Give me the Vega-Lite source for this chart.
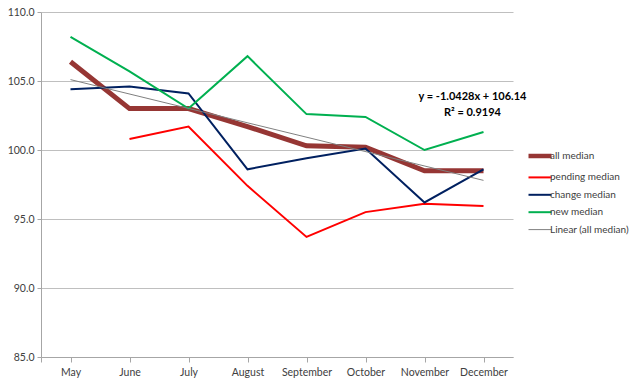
{
  "$schema": "https://vega.github.io/schema/vega-lite/v6.json",
  "autosize": {"type": "none"},
  "width": 472,
  "height": 345,
  "padding": {"left": 41, "top": 12, "right": 127, "bottom": 27},
  "background": "white",
  "config": {
    "font": "Lato",
    "view": {"stroke": null},
    "axis": {"labelFont": "Lato", "labelColor": "#404040", "labelFontSize": 10.5}
  },
  "datasets": {
    "lines": [
      {"month": "May", "series": "all median", "value": 106.4},
      {"month": "June", "series": "all median", "value": 103.0},
      {"month": "July", "series": "all median", "value": 103.0},
      {"month": "August", "series": "all median", "value": 101.7},
      {"month": "September", "series": "all median", "value": 100.3},
      {"month": "October", "series": "all median", "value": 100.2},
      {"month": "November", "series": "all median", "value": 98.5},
      {"month": "December", "series": "all median", "value": 98.5},
      {"month": "June", "series": "pending median", "value": 100.8},
      {"month": "July", "series": "pending median", "value": 101.7},
      {"month": "August", "series": "pending median", "value": 97.4},
      {"month": "September", "series": "pending median", "value": 93.7},
      {"month": "October", "series": "pending median", "value": 95.5},
      {"month": "November", "series": "pending median", "value": 96.1},
      {"month": "December", "series": "pending median", "value": 95.95},
      {"month": "May", "series": "change median", "value": 104.4},
      {"month": "June", "series": "change median", "value": 104.6},
      {"month": "July", "series": "change median", "value": 104.1},
      {"month": "August", "series": "change median", "value": 98.6},
      {"month": "September", "series": "change median", "value": 99.4},
      {"month": "October", "series": "change median", "value": 100.1},
      {"month": "November", "series": "change median", "value": 96.2},
      {"month": "December", "series": "change median", "value": 98.6},
      {"month": "May", "series": "new median", "value": 108.2},
      {"month": "June", "series": "new median", "value": 105.7},
      {"month": "July", "series": "new median", "value": 103.0},
      {"month": "August", "series": "new median", "value": 106.8},
      {"month": "September", "series": "new median", "value": 102.6},
      {"month": "October", "series": "new median", "value": 102.4},
      {"month": "November", "series": "new median", "value": 100.0},
      {"month": "December", "series": "new median", "value": 101.3},
      {"month": "May", "series": "Linear (all median)", "value": 105.1},
      {"month": "December", "series": "Linear (all median)", "value": 97.8}
    ],
    "notes": [
      {"month": "December", "value": 103.85, "label": "y = -1.0428x + 106.14"},
      {"month": "December", "value": 102.7, "label": "R² = 0.9194"}
    ]
  },
  "encoding": {
    "x": {
      "field": "month", "type": "ordinal",
      "sort": ["May", "June", "July", "August", "September", "October", "November", "December"],
      "scale": {"paddingInner": 0, "paddingOuter": 0},
      "axis": {
        "title": null, "labelAngle": 0, "bandPosition": 0, "tickExtra": true,
        "domainColor": "#A6A6A6", "tickColor": "#A6A6A6", "tickSize": 5, "labelPadding": 5,
        "grid": false
      }
    },
    "y": {
      "field": "value", "type": "quantitative",
      "scale": {"domain": [85, 110], "nice": false, "zero": false},
      "axis": {
        "title": null, "values": [85, 90, 95, 100, 105, 110], "format": ".1f",
        "domainColor": "#A6A6A6", "tickColor": "#A6A6A6", "tickSize": 4, "labelPadding": 3,
        "gridColor": "#BFBFBF", "gridWidth": 1
      }
    }
  },
  "layer": [
    {
      "data": {"name": "lines"},
      "transform": [{"filter": "datum.series === 'all median'"}],
      "mark": {"type": "line", "strokeWidth": 5, "strokeJoin": "miter", "strokeCap": "butt"},
      "encoding": {
        "color": {
          "field": "series", "type": "nominal",
          "scale": {
            "domain": ["all median", "pending median", "change median", "new median", "Linear (all median)"],
            "range": ["#963634", "#FF0000", "#002060", "#00B050", "#808080"]
          },
          "legend": {
            "title": null, "orient": "none", "legendX": 494, "legendY": 139,
            "symbolType": "stroke", "symbolSize": 529, "symbolStrokeWidth": 2,
            "labelFont": "Lato", "labelFontSize": 10,
            "labelColor": "#404040", "labelOffset": 5, "rowPadding": 7.4, "labelLimit": 0,
            "encode": {
              "symbols": {
                "update": {
                  "strokeWidth": {"signal": "datum.value === 'all median' ? 4.5 : datum.value === 'Linear (all median)' ? 1 : 2"}
                }
              }
            }
          }
        }
      }
    },
    {
      "data": {"name": "lines"},
      "transform": [{"filter": "datum.series !== 'all median' && datum.series !== 'Linear (all median)'"}],
      "mark": {"type": "line", "strokeWidth": 2, "strokeJoin": "miter", "strokeCap": "butt"},
      "encoding": {
        "color": {"field": "series", "type": "nominal"}
      }
    },
    {
      "data": {"name": "lines"},
      "transform": [{"filter": "datum.series === 'Linear (all median)'"}],
      "mark": {"type": "line", "strokeWidth": 1},
      "encoding": {
        "color": {"field": "series", "type": "nominal"}
      }
    },
    {
      "data": {"name": "notes"},
      "mark": {"type": "text", "font": "Lato", "fontSize": 11, "fontWeight": "bold", "color": "#000000", "dx": -11},
      "encoding": {
        "text": {"field": "label"}
      }
    }
  ]
}
